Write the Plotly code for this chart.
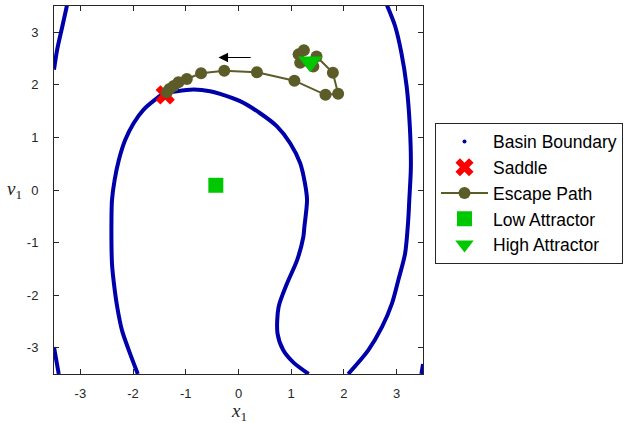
import plotly.graph_objects as go

# Basin boundary curves
bA_x = [-1.91, -2.08, -2.21, -2.30, -2.37, -2.40, -2.41, -2.40, -2.35, -2.27, -2.15, -1.99, -1.80, -1.58, -1.43, -1.17, -0.85, -0.54, -0.35, 0.03, 0.41, 0.73, 0.98, 1.17, 1.26, 1.30, 1.25, 1.23, 1.11, 0.92, 0.76, 0.74, 0.85, 1.04, 1.33]
bA_y = [-3.50, -3.05, -2.67, -2.23, -1.72, -1.40, -0.57, -0.19, 0.19, 0.57, 0.95, 1.27, 1.53, 1.72, 1.83, 1.88, 1.91, 1.88, 1.83, 1.69, 1.46, 1.21, 0.89, 0.51, 0.13, -0.19, -0.70, -0.89, -1.34, -1.78, -2.23, -2.73, -3.05, -3.28, -3.50]
bB_x = [2.81, 2.97, 3.09, 3.19, 3.25, 3.27, 3.24, 3.22, 3.16, 3.03, 2.91, 2.72, 2.46, 2.08]
bB_y = [3.53, 3.12, 2.61, 1.97, 1.21, 0.44, -0.19, -0.57, -1.21, -1.72, -2.16, -2.61, -3.05, -3.50]
bC_x = [-3.25, -3.34, -3.44, -3.50]
bC_y = [3.53, 3.12, 2.67, 2.29]
bD_x = [-3.50, -3.41]
bD_y = [-2.99, -3.50]
bE_x = [3.50, 3.47]
bE_y = [-3.31, -3.50]

saddle_x = [-1.39]
saddle_y = [1.81]
low_x = [-0.43]
low_y = [0.09]
high_x = [1.36]
high_y = [2.44]

path_x = [1.36, 1.14, 1.24, 1.17, 1.42, 1.48, 1.79, 1.89, 1.65, 1.06, 0.35, -0.27, -0.71, -0.98, -1.14, -1.23, -1.31, -1.36]
path_y = [2.42, 2.58, 2.66, 2.42, 2.35, 2.54, 2.23, 1.83, 1.81, 2.08, 2.24, 2.27, 2.22, 2.11, 2.05, 1.98, 1.92, 1.86]

arrow_tail = (0.26, 2.52)
arrow_head = (-0.38, 2.52)

BLUE = "rgb(0,0,170)"
OLIVE = "#5c5c28"
GREEN = "#00c800"
AX = "#262626"

fig = go.Figure()
for bx, by in [(bA_x, bA_y), (bB_x, bB_y), (bC_x, bC_y), (bD_x, bD_y), (bE_x, bE_y)]:
    fig.add_trace(go.Scatter(x=bx, y=by, mode="lines", line=dict(color=BLUE, width=4, shape="spline", smoothing=0.8),
                             showlegend=False, hoverinfo="skip"))
fig.add_trace(go.Scatter(x=[None], y=[None], mode="markers", name="Basin Boundary",
                         marker=dict(color=BLUE, size=4), legendrank=1))
fig.add_trace(go.Scatter(x=saddle_x, y=saddle_y, mode="markers", name="Saddle",
                         marker=dict(symbol="x", color="red", size=17, line=dict(width=0)), legendrank=2))
fig.add_trace(go.Scatter(x=path_x, y=path_y, mode="lines+markers", name="Escape Path",
                         line=dict(color=OLIVE, width=2), marker=dict(color=OLIVE, size=12), legendrank=3))
fig.add_trace(go.Scatter(x=low_x, y=low_y, mode="markers", name="Low Attractor",
                         marker=dict(symbol="square", color=GREEN, size=15), legendrank=4))
fig.add_trace(go.Scatter(x=high_x, y=high_y, mode="markers", name="High Attractor",
                         marker=dict(symbol="triangle-down", color=GREEN, size=21), legendrank=5))

fig.add_annotation(x=arrow_head[0], y=arrow_head[1], ax=arrow_tail[0], ay=arrow_tail[1],
                   xref="x", yref="y", axref="x", ayref="y", showarrow=True, text="",
                   arrowhead=2, arrowsize=1.6, arrowwidth=1.2, arrowcolor="black")

fig.add_annotation(x=0, y=-0.103, xref="x", yref="paper", showarrow=False, xanchor="center", yanchor="middle",
                   text="<i>x</i><sub>1</sub>", font=dict(family="Liberation Serif", size=19, color=AX))
fig.add_annotation(x=-0.106, y=0, xref="paper", yref="y", showarrow=False, xanchor="center", yanchor="middle",
                   text="<i>v</i><sub>1</sub>", font=dict(family="Liberation Serif", size=19, color=AX))

axis_common = dict(range=[-3.5, 3.5], showgrid=False, zeroline=False, showline=True, linecolor=AX,
                   linewidth=1, mirror="ticks", ticks="inside", ticklen=5, tickcolor=AX,
                   tickvals=[-3, -2, -1, 0, 1, 2, 3], ticktext=["-3", "-2", "-1", "0", "1", "2", "3"],
                   tickfont=dict(family="Liberation Sans", size=13, color=AX))
fig.update_xaxes(**axis_common, ticklabelstandoff=7)
fig.update_yaxes(**axis_common, ticklabelstandoff=12)

fig.update_layout(
    width=626, height=423,
    margin=dict(l=54, r=203, t=6, b=49, autoexpand=False),
    paper_bgcolor="white", plot_bgcolor="white",
    showlegend=True,
    legend=dict(x=1.0325, y=0.683, xanchor="left", yanchor="top",
                bordercolor=AX, borderwidth=1, bgcolor="white",
                font=dict(family="Liberation Sans", size=17.5, color="black"),
                itemwidth=47, tracegroupgap=0),
)
fig.write_html("out.html")
